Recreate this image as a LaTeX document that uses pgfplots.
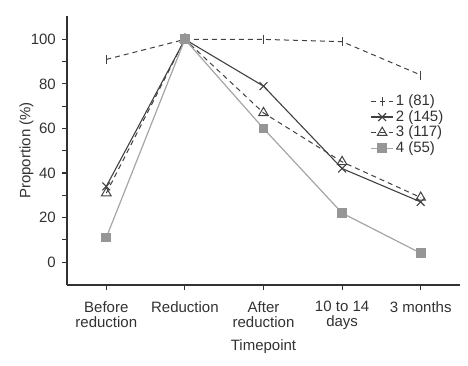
\documentclass[border=0pt]{standalone}
\usepackage{pgfplots}
\pgfplotsset{compat=1.18}
\usepackage{fontspec}
\setmainfont{Liberation Sans}
\definecolor{txt}{RGB}{50,50,50}
\definecolor{dk}{RGB}{65,65,65}
\definecolor{lt}{RGB}{165,165,165}
\definecolor{sq}{RGB}{150,150,150}
\begin{document}
\fontsize{15}{17}\selectfont
\begin{tikzpicture}[x=1pt,y=1pt]
\useasboundingbox (-67,-80) rectangle (401,285);
\begin{axis}[
  at={(0,0)}, anchor=south west,
  scale only axis, width=393pt, height=269pt,
  xmin=-0.5, xmax=4.5, ymin=-10.3, ymax=110.5,
  axis lines=left, axis line style={-, line width=1.3pt, color=txt},
  xtick={0,1,2,3,4},
  xticklabels={Before\\reduction, Reduction, After\\reduction, 10 to 14\\days, 3 months},
  xticklabel style={align=center, text=txt, font=\fontsize{15}{15}\selectfont, yshift=-6pt},
  ytick={0,20,40,60,80,100},
  minor ytick={10,30,50,70,90},
  yticklabel style={text=txt, xshift=-1pt, font=\fontsize{15}{15}\selectfont},
  /pgf/number format/assume math mode=true,
  tick align=outside, major tick length=5pt, minor tick length=5pt,
  tick style={line width=1.1pt, color=txt},
  xlabel={Timepoint}, ylabel={Proportion (\%)},
  xlabel style={text=txt, yshift=0pt, font=\fontsize{15}{15}\selectfont},
  ylabel style={text=txt, yshift=-13pt, font=\fontsize{15}{15}\selectfont},
  legend style={draw=none, fill=none, at={(0.772,0.715)}, anchor=north west, text=txt, row sep=-1.5pt, font=\fontsize{15}{15}\selectfont, inner sep=0pt},
  legend cell align=left,
  legend image code/.code={\draw[#1] (0pt,0pt) -- (22pt,0pt); \draw[#1,solid] plot coordinates {(11pt,0pt)};},
  clip=false,
]
\addplot[color=dk, line width=1pt, dash pattern=on 5pt off 4pt, mark=|, mark size=4.5pt, mark options={solid}]
  coordinates {(0,91) (1,100) (2,100) (3,99) (4,84)};
\addlegendentry{1 (81)}
\addplot[color=dk, line width=1.1pt, mark=x, mark size=5.5pt, mark options={solid}]
  coordinates {(0,34) (1,100) (2,79) (3,42) (4,27)};
\addlegendentry{2 (145)}
\addplot[color=dk, line width=1pt, dash pattern=on 5pt off 4pt, mark=triangle, mark size=5.5pt, mark options={solid, fill=white}]
  coordinates {(0,31) (1,100) (2,67) (3,45) (4,29)};
\addlegendentry{3 (117)}
\addplot[color=lt, line width=1.2pt, mark=square*, mark size=4.3pt, mark options={solid, fill=sq, draw=sq}]
  coordinates {(0,11) (1,100) (2,60) (3,22) (4,4)};
\addlegendentry{4 (55)}
\end{axis}
\end{tikzpicture}
\end{document}
